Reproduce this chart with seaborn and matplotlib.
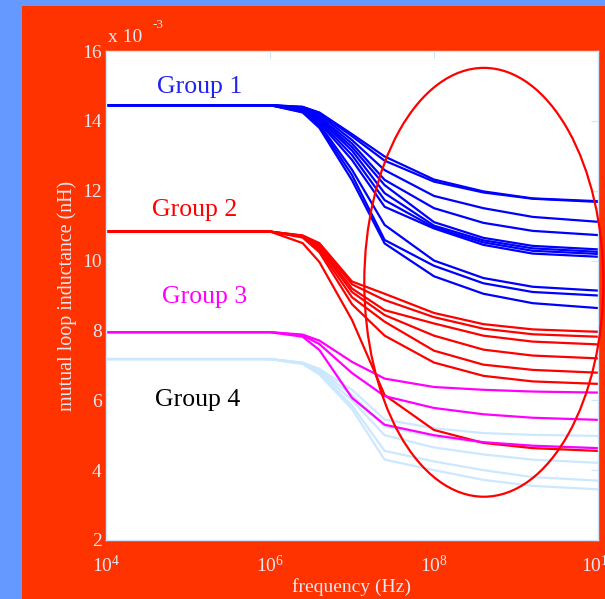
import matplotlib
matplotlib.use("Agg")
import matplotlib.pyplot as plt
from matplotlib.patches import Ellipse, Rectangle
from matplotlib.ticker import FixedLocator, LogFormatterSciNotation
import numpy as np
import pandas as pd
import seaborn as sns

# frequency samples (Hz)
freq = [1e4, 1e6, 2.5e6, 4e6, 1e7, 2.5e7, 1e8, 4e8, 1.6e9, 1e10]

# mutual loop inductance (x 1e-3 nH)
group1 = [
    [14.45, 14.45, 14.40, 14.24, 13.62, 12.98, 12.32, 11.98, 11.78, 11.70],
    [14.45, 14.45, 14.40, 14.22, 13.56, 12.86, 12.26, 11.95, 11.77, 11.68],
    [14.45, 14.45, 14.38, 14.18, 13.45, 12.59, 11.85, 11.50, 11.25, 11.11],
    [14.45, 14.45, 14.36, 14.12, 13.35, 12.31, 11.50, 11.08, 10.85, 10.73],
    [14.45, 14.45, 14.35, 14.08, 13.25, 12.16, 11.10, 10.65, 10.42, 10.32],
    [14.45, 14.45, 14.34, 14.05, 13.15, 11.93, 11.00, 10.58, 10.35, 10.25],
    [14.45, 14.45, 14.33, 14.00, 13.02, 11.73, 10.95, 10.52, 10.28, 10.19],
    [14.45, 14.45, 14.30, 13.95, 12.88, 11.54, 10.92, 10.45, 10.20, 10.11],
    [14.45, 14.45, 14.28, 13.90, 12.60, 11.02, 10.00, 9.50, 9.25, 9.14],
    [14.45, 14.45, 14.26, 13.85, 12.45, 10.59, 9.85, 9.35, 9.10, 9.00],
    [14.45, 14.45, 14.24, 13.80, 12.30, 10.49, 9.55, 9.05, 8.78, 8.64],
]
group2 = [
    [10.83, 10.83, 10.72, 10.50, 9.40, 9.05, 8.50, 8.18, 8.03, 7.96],
    [10.83, 10.83, 10.71, 10.46, 9.32, 8.87, 8.38, 8.05, 7.89, 7.82],
    [10.83, 10.83, 10.70, 10.42, 9.20, 8.58, 8.20, 7.85, 7.68, 7.60],
    [10.83, 10.83, 10.69, 10.36, 9.10, 8.44, 7.85, 7.45, 7.28, 7.20],
    [10.83, 10.83, 10.68, 10.30, 8.95, 8.25, 7.42, 7.02, 6.87, 6.79],
    [10.83, 10.83, 10.66, 10.24, 8.75, 7.85, 7.08, 6.70, 6.54, 6.47],
    [10.83, 10.83, 10.50, 9.96, 8.30, 6.15, 5.15, 4.78, 4.63, 4.55],
]
group3 = [
    [7.95, 7.95, 7.88, 7.71, 7.10, 6.62, 6.38, 6.30, 6.25, 6.22],
    [7.95, 7.95, 7.86, 7.61, 6.78, 6.12, 5.78, 5.60, 5.50, 5.44],
    [7.95, 7.95, 7.82, 7.44, 6.07, 5.30, 5.00, 4.80, 4.70, 4.63],
]
group4 = [
    [7.18, 7.18, 7.08, 6.90, 6.30, 5.45, 5.20, 5.06, 5.01, 4.98],
    [7.18, 7.18, 7.07, 6.86, 6.15, 5.25, 4.95, 4.78, 4.68, 4.63],
    [7.18, 7.18, 7.06, 6.82, 6.00, 5.00, 4.65, 4.45, 4.30, 4.21],
    [7.18, 7.18, 7.05, 6.78, 5.85, 4.55, 4.25, 4.00, 3.80, 3.70],
    [7.18, 7.18, 7.04, 6.74, 5.75, 4.30, 4.00, 3.72, 3.55, 3.45],
]

group_names = ["Group 1", "Group 2", "Group 3", "Group 4"]
group_colors = ["#0000FF", "#FF0000", "#FF00FF", "#CCE8FF"]
label_colors = ["#2222EE", "#FF0000", "#FF00FF", "#000000"]
label_pos = [(1.4e5, 14.96), (1.22e5, 11.44), (1.6e5, 8.95), (1.3e5, 6.0)]

x_ticks = [1e4, 1e6, 1e8, 1e10]
y_ticks = [2, 4, 6, 8, 10, 12, 14, 16]

text_col = "#E4E8F4"
frame_col = "#CCE6FF"

sns.set_style("white")
plt.rcParams["font.family"] = ["Liberation Serif", "DejaVu Serif"]
plt.rcParams["mathtext.fontset"] = "custom"
plt.rcParams["mathtext.rm"] = "Liberation Serif"
plt.rcParams["mathtext.it"] = "Liberation Serif:italic"

W, H = 605, 599
fig = plt.figure(figsize=(W / 100, H / 100), dpi=100, facecolor="#6699FF")
fig.patches.append(Rectangle((22 / W, 0), 1 - 22 / W, (H - 6) / H,
                             transform=fig.transFigure, facecolor="#FF3300",
                             edgecolor="none", zorder=-10))
ax = fig.add_axes([106 / W, (H - 540) / H, 492 / W, 489 / H])
ax.set_facecolor("white")

# draw order: light blue under everything, then red, magenta, blue
groups = [group1, group2, group3, group4]
for gi in [3, 1, 2, 0]:
    rows = []
    for ci, vals in enumerate(groups[gi]):
        rows.append(pd.DataFrame({"freq": freq, "L": vals, "curve": ci}))
    df = pd.concat(rows)
    sns.lineplot(data=df, x="freq", y="L", units="curve", estimator=None,
                 color=group_colors[gi], lw=1.6, ax=ax, legend=False)

ax.set_xscale("log")
ax.set_xlim(1e4, 1e10)
ax.set_ylim(2, 16)
ax.xaxis.set_major_locator(FixedLocator(x_ticks))
ax.xaxis.set_major_formatter(LogFormatterSciNotation())
ax.xaxis.set_minor_locator(FixedLocator([]))
ax.set_yticks(y_ticks)
ax.set_yticklabels([str(v) for v in y_ticks])

ax.tick_params(axis="both", which="major", direction="in", length=5, width=0.8,
               color=frame_col, labelcolor=text_col, labelsize=14,
               top=True, right=True)
ax.tick_params(axis="x", pad=11)
ax.tick_params(axis="y", pad=3)
for s in ax.spines.values():
    s.set_color(frame_col)
    s.set_linewidth(1.0)

ax.set_xlabel("frequency (Hz)", color=text_col, fontsize=14, labelpad=1)
ax.set_ylabel("mutual loop inductance (nH)", color=text_col, fontsize=14.4, labelpad=4)

# MATLAB-style exponent label above the y axis
ax.text(0.004, 1.01, "x 10", transform=ax.transAxes, color=text_col,
        fontsize=14, ha="left", va="bottom")
ax.text(0.094, 1.04, "-3", transform=ax.transAxes, color=text_col,
        fontsize=9.5, ha="left", va="bottom")

for name, col, (lx, ly) in zip(group_names, label_colors, label_pos):
    ax.text(lx, ly, name, color=col, fontsize=18.5, ha="center", va="center")

ell = Ellipse((0.768, 0.527), 0.486, 0.877, transform=ax.transAxes,
              fill=False, edgecolor="#FF0000", lw=1.6, clip_on=False, zorder=5)
ax.add_patch(ell)

fig.savefig("out.png", dpi=100, facecolor=fig.get_facecolor())
